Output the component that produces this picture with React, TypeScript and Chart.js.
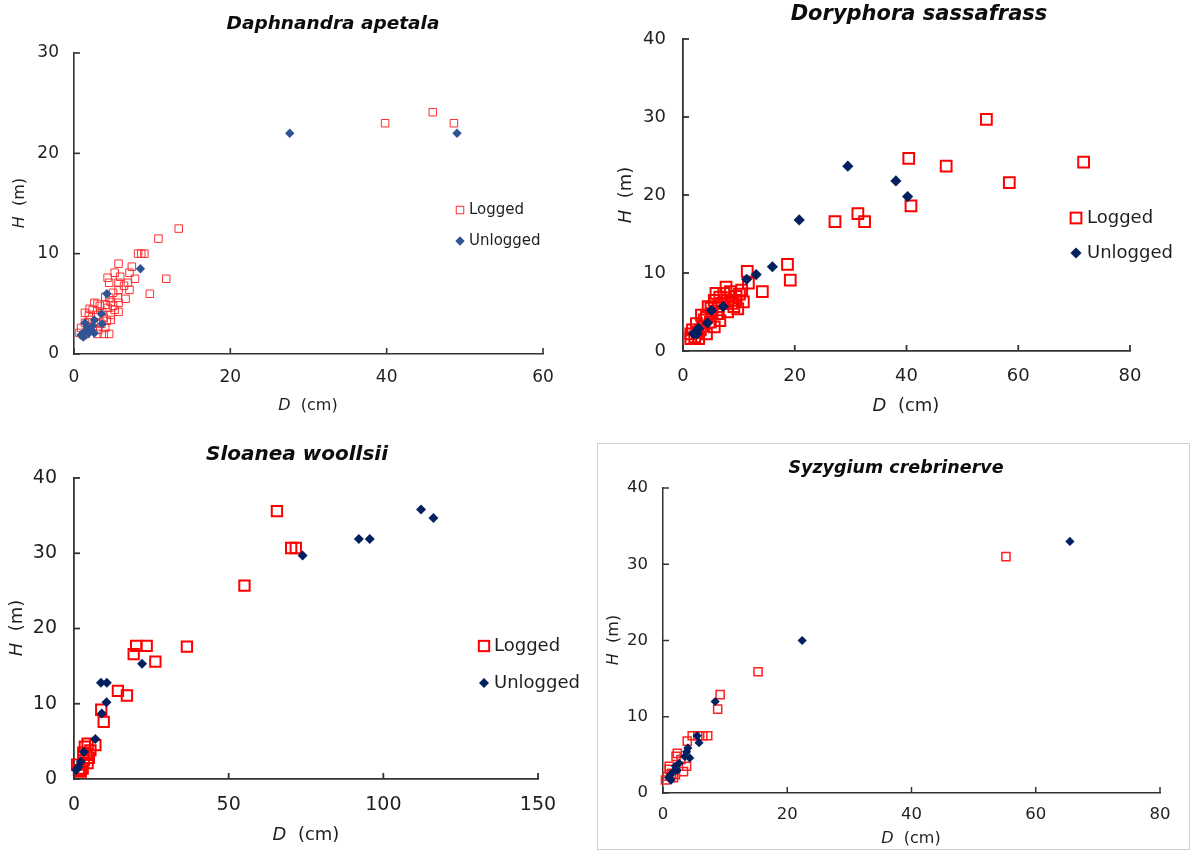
import React, { useEffect, useRef } from 'react';
import { Chart, registerables } from 'chart.js';

Chart.register(...registerables);

type Pt = [number, number];

// ---------- Data: [D (cm), H (m)] ----------
const daphnandraLogged: Pt[] = [
  [39.8, 23.0], [45.9, 24.1], [48.6, 23.0], [13.4, 12.5], [10.8, 11.5], [8.2, 10.0], [8.6, 10.0], [9.0, 10.0],
  [11.8, 7.5], [9.7, 6.0], [5.7, 9.0], [7.4, 8.7], [7.1, 8.1], [7.8, 7.5], [6.9, 7.1], [7.1, 6.4], [6.6, 5.5],
  [5.2, 8.1], [4.3, 7.6], [4.5, 7.1], [5.7, 7.1], [5.7, 6.4], [5.0, 6.1], [5.6, 5.6], [5.7, 5.1], [4.7, 5.2],
  [4.0, 4.9], [5.2, 4.4], [4.7, 3.9], [3.3, 4.8], [2.6, 5.1], [2.4, 4.4], [3.1, 3.9], [3.8, 3.6], [1.9, 3.9],
  [1.4, 4.1], [2.1, 3.4], [2.8, 3.1], [4.0, 2.6], [4.5, 2.0], [3.8, 2.0], [3.1, 2.4], [1.4, 3.1], [0.9, 2.6],
  [0.7, 2.1], [1.2, 1.9], [1.9, 2.3], [2.4, 2.6], [1.7, 2.8], [4.7, 3.4], [3.6, 4.2], [4.3, 4.6], [5.0, 4.8],
  [4.5, 5.6], [4.0, 5.7], [5.9, 7.7], [6.4, 6.8], [5.7, 4.2], [3.0, 5.0], [2.0, 4.5], [3.5, 3.0], [4.2, 3.3],
  [3.0, 2.0], [1.5, 2.0],
];
const daphnandraUnlogged: Pt[] = [
  [27.6, 22.0], [49.0, 22.0], [8.5, 8.5], [4.2, 6.0], [3.5, 4.0], [3.6, 3.0], [2.6, 3.4], [1.4, 3.1],
  [1.7, 2.6], [2.4, 2.8], [2.1, 2.3], [1.3, 2.2], [0.9, 1.9], [1.2, 1.7], [1.9, 2.1], [2.6, 2.1],
];

const doryphoraLogged: Pt[] = [
  [54.3, 29.7], [40.4, 24.7], [47.1, 23.7], [71.7, 24.2], [58.4, 21.6], [40.8, 18.6], [31.3, 17.6], [32.5, 16.6],
  [27.2, 16.6], [18.7, 11.1], [19.2, 9.1], [11.5, 10.2], [11.7, 8.7], [14.2, 7.6], [10.5, 7.8], [9.4, 6.5],
  [10.1, 7.3], [8.7, 6.1], [7.7, 8.2], [7.3, 7.4], [8.0, 6.5], [6.6, 6.9], [5.9, 7.4], [5.6, 6.5], [6.3, 5.7],
  [5.2, 4.8], [4.5, 5.7], [4.2, 4.4], [5.6, 3.1], [4.2, 2.2], [3.1, 2.7], [3.3, 4.6], [2.4, 3.5], [1.7, 2.7],
  [2.1, 1.8], [1.4, 1.6], [2.8, 1.6], [1.4, 2.2], [4.9, 3.7], [6.6, 3.9], [9.1, 5.7], [9.8, 5.4], [10.8, 6.3],
  [6.3, 4.8], [7.0, 6.1], [8.0, 5.0], [3.8, 4.0], [2.6, 2.4], [8.5, 7.6], [9.5, 7.0], [5.0, 5.5], [3.5, 3.2],
];
const doryphoraUnlogged: Pt[] = [
  [29.5, 23.7], [38.1, 21.8], [40.2, 19.8], [20.8, 16.8], [16.0, 10.8], [13.1, 9.8], [11.4, 9.2], [7.2, 5.7],
  [5.1, 5.2], [4.4, 3.6], [2.8, 2.9], [2.3, 2.4], [1.9, 2.2], [2.5, 2.2],
];

const sloaneaLogged: Pt[] = [
  [65.6, 35.6], [70.2, 30.7], [71.7, 30.7], [55.1, 25.7], [36.5, 17.6], [20.1, 17.7], [23.5, 17.7], [19.3, 16.6],
  [26.3, 15.6], [14.2, 11.7], [17.1, 11.1], [8.8, 9.2], [9.6, 7.6], [6.9, 4.5], [4.4, 4.7], [3.5, 4.3],
  [4.1, 3.2], [4.4, 2.1], [2.8, 1.4], [1.6, 1.2], [1.0, 1.9], [3.2, 2.5], [5.3, 3.8], [3.0, 3.5], [4.8, 2.8],
  [2.2, 1.0],
];
const sloaneaUnlogged: Pt[] = [
  [112.2, 35.8], [116.2, 34.7], [92.1, 31.9], [95.6, 31.9], [73.9, 29.7], [22.0, 15.3], [8.7, 12.8], [10.6, 12.8],
  [10.5, 10.2], [9.0, 8.7], [6.9, 5.3], [3.2, 3.6], [2.2, 2.3], [1.4, 1.6], [0.7, 1.2],
];

const syzygiumLogged: Pt[] = [
  [55.2, 31.0], [15.3, 15.9], [9.2, 12.9], [8.8, 11.0], [4.7, 7.5], [5.6, 7.5], [6.4, 7.5], [7.2, 7.5],
  [3.9, 6.8], [2.3, 5.2], [2.1, 4.8], [3.8, 3.5], [3.3, 2.8], [1.0, 3.1], [0.7, 2.2], [0.4, 1.7], [1.7, 2.0],
  [2.9, 4.4], [1.0, 3.5], [2.0, 2.4], [1.4, 2.6],
];
const syzygiumUnlogged: Pt[] = [
  [65.5, 33.0], [22.4, 20.0], [8.4, 12.0], [5.5, 7.5], [5.8, 6.6], [4.0, 5.9], [4.3, 4.6], [3.5, 4.8],
  [2.6, 3.9], [2.0, 3.5], [1.7, 2.8], [1.2, 2.4], [0.9, 2.0], [1.3, 1.7], [2.3, 3.0], [3.8, 5.4],
];

const seriesNames = ['Logged', 'Unlogged'];
const xAxisLabel = ['D', '  (cm)'];
const yAxisLabel = ['H', '  (m)'];

// ---------- Styling ----------
const FONT = '"DejaVu Sans", "Liberation Sans", Arial, sans-serif';
const AXIS = '#333333';
const TEXT = '#1f1f1f';
const RED = '#FF0000';

interface PanelCfg {
  key: string;
  title: string;
  logged: Pt[];
  unlogged: Pt[];
  left: number; top: number; width: number; height: number;
  area: { left: number; top: number; right: number; bottom: number };
  xMax: number; xStep: number; yMax: number; yStep: number;
  tickSize: number; xTickPad: number; yTickPad: number;
  titleX: number; titleY: number; titleSize: number;
  xTitleX: number; xTitleY: number; yTitleX: number; yTitleY: number; axisTitleSize: number;
  legend: { markerX: number; textX: number; y1: number; y2: number; size: number } | null;
  loggedR: number; loggedBW: number; loggedColor: string;
  unloggedR: number; unloggedColor: string;
  axisWidth: number;
}

const panels: PanelCfg[] = [
  {
    key: 'p1', title: 'Daphnandra apetala', logged: daphnandraLogged, unlogged: daphnandraUnlogged,
    left: 0, top: 0, width: 580, height: 415,
    area: { left: 74, top: 53, right: 543, bottom: 354 },
    xMax: 60, xStep: 20, yMax: 30, yStep: 10,
    tickSize: 17, xTickPad: 13, yTickPad: 15,
    titleX: 333, titleY: 24, titleSize: 18.5,
    xTitleX: 308, xTitleY: 406, yTitleX: 20, yTitleY: 203, axisTitleSize: 16,
    legend: { markerX: 460, textX: 469, y1: 210, y2: 241, size: 15 },
    loggedR: 5.3, loggedBW: 1, loggedColor: '#FF3030',
    unloggedR: 4.7, unloggedColor: '#2F5597',
    axisWidth: 1.6,
  },
  {
    key: 'p2', title: 'Doryphora sassafrass', logged: doryphoraLogged, unlogged: doryphoraUnlogged,
    left: 580, top: 0, width: 612, height: 415,
    area: { left: 103, top: 39, right: 550, bottom: 351 },
    xMax: 80, xStep: 20, yMax: 40, yStep: 10,
    tickSize: 18, xTickPad: 15, yTickPad: 17,
    titleX: 339, titleY: 15, titleSize: 21,
    xTitleX: 326, xTitleY: 406, yTitleX: 46, yTitleY: 195, axisTitleSize: 18,
    legend: { markerX: 496, textX: 507, y1: 218, y2: 253, size: 18 },
    loggedR: 7.6, loggedBW: 2, loggedColor: RED,
    unloggedR: 5.6, unloggedColor: '#002060',
    axisWidth: 1.8,
  },
  {
    key: 'p3', title: 'Sloanea woollsii', logged: sloaneaLogged, unlogged: sloaneaUnlogged,
    left: 0, top: 420, width: 595, height: 432,
    area: { left: 74, top: 58, right: 538, bottom: 359 },
    xMax: 150, xStep: 50, yMax: 40, yStep: 10,
    tickSize: 19, xTickPad: 15, yTickPad: 17,
    titleX: 297, titleY: 35, titleSize: 20,
    xTitleX: 306, xTitleY: 415, yTitleX: 17, yTitleY: 208, axisTitleSize: 18,
    legend: { markerX: 484, textX: 494, y1: 226, y2: 263, size: 18 },
    loggedR: 7.3, loggedBW: 2, loggedColor: RED,
    unloggedR: 5, unloggedColor: '#002060',
    axisWidth: 1.8,
  },
  {
    key: 'p4', title: 'Syzygium crebrinerve', logged: syzygiumLogged, unlogged: syzygiumUnlogged,
    left: 597, top: 443, width: 593, height: 407,
    area: { left: 66, top: 45, right: 563, bottom: 350 },
    xMax: 80, xStep: 20, yMax: 40, yStep: 10,
    tickSize: 16.5, xTickPad: 12, yTickPad: 15,
    titleX: 299, titleY: 25, titleSize: 17.5,
    xTitleX: 314, xTitleY: 396, yTitleX: 17, yTitleY: 197, axisTitleSize: 16,
    legend: null,
    loggedR: 5.7, loggedBW: 1.5, loggedColor: '#FF2020',
    unloggedR: 4.6, unloggedColor: '#002060',
    axisWidth: 1.5,
  },
];

function drawMixed(ctx: CanvasRenderingContext2D, parts: string[], cx: number, cy: number, size: number, rotate: boolean) {
  ctx.save();
  ctx.translate(cx, cy);
  if (rotate) ctx.rotate(-Math.PI / 2);
  const fonts = [`italic ${size}px ${FONT}`, `${size}px ${FONT}`];
  let total = 0;
  const widths = parts.map((p, i) => { ctx.font = fonts[i]; const w = ctx.measureText(p).width; total += w; return w; });
  let x = -total / 2;
  ctx.fillStyle = TEXT;
  ctx.textBaseline = 'middle';
  ctx.textAlign = 'left';
  parts.forEach((p, i) => { ctx.font = fonts[i]; ctx.fillText(p, x, 0); x += widths[i]; });
  ctx.restore();
}

function drawSquare(ctx: CanvasRenderingContext2D, x: number, y: number, r: number, color: string, bw: number) {
  const h = Math.SQRT1_2 * r;
  ctx.save();
  ctx.strokeStyle = color; ctx.lineWidth = bw;
  ctx.strokeRect(x - h, y - h, 2 * h, 2 * h);
  ctx.restore();
}

function drawDiamond(ctx: CanvasRenderingContext2D, x: number, y: number, r: number, color: string) {
  ctx.save();
  ctx.fillStyle = color;
  ctx.beginPath();
  ctx.moveTo(x - r, y); ctx.lineTo(x, y - r); ctx.lineTo(x + r, y); ctx.lineTo(x, y + r);
  ctx.closePath(); ctx.fill();
  ctx.restore();
}

function buildChart(canvas: HTMLCanvasElement, cfg: PanelCfg) {
  const decor = {
    id: 'decor_' + cfg.key,
    afterDraw(chart: any) {
      const ctx: CanvasRenderingContext2D = chart.ctx;
      const { left, bottom } = chart.chartArea;
      const xs = chart.scales.x; const ys = chart.scales.y;
      // inward tick marks
      ctx.save();
      ctx.strokeStyle = AXIS; ctx.lineWidth = cfg.axisWidth;
      const tl = 6;
      xs.ticks.forEach((t: any) => {
        const p = xs.getPixelForValue(t.value);
        ctx.beginPath(); ctx.moveTo(p, bottom); ctx.lineTo(p, bottom - tl); ctx.stroke();
      });
      ys.ticks.forEach((t: any) => {
        const p = ys.getPixelForValue(t.value);
        ctx.beginPath(); ctx.moveTo(left, p); ctx.lineTo(left + tl, p); ctx.stroke();
      });
      ctx.restore();
      // title
      ctx.save();
      ctx.font = `italic bold ${cfg.titleSize}px ${FONT}`;
      ctx.fillStyle = '#0d0d0d';
      ctx.textAlign = 'center'; ctx.textBaseline = 'middle';
      ctx.fillText(cfg.title, cfg.titleX, cfg.titleY);
      ctx.restore();
      // axis titles
      drawMixed(ctx, xAxisLabel, cfg.xTitleX, cfg.xTitleY, cfg.axisTitleSize, false);
      drawMixed(ctx, yAxisLabel, cfg.yTitleX, cfg.yTitleY, cfg.axisTitleSize, true);
      // legend
      if (cfg.legend) {
        const L = cfg.legend;
        drawSquare(ctx, L.markerX, L.y1, cfg.loggedR, cfg.loggedColor, cfg.loggedBW);
        drawDiamond(ctx, L.markerX, L.y2, cfg.unloggedR, cfg.unloggedColor);
        ctx.save();
        ctx.font = `${L.size}px ${FONT}`;
        ctx.fillStyle = TEXT; ctx.textAlign = 'left'; ctx.textBaseline = 'middle';
        ctx.fillText(seriesNames[0], L.textX, L.y1);
        ctx.fillText(seriesNames[1], L.textX, L.y2);
        ctx.restore();
      }
    },
  };

  const yWidth = cfg.area.left;
  const xHeight = cfg.height - cfg.area.bottom;

  return new Chart(canvas, {
    type: 'scatter',
    data: {
      datasets: [
        {
          label: seriesNames[0],
          data: cfg.logged.map(([x, y]) => ({ x, y })),
          pointStyle: 'rect',
          pointRadius: cfg.loggedR,
          pointBorderWidth: cfg.loggedBW,
          pointBorderColor: cfg.loggedColor,
          pointBackgroundColor: 'rgba(0,0,0,0)',
          borderColor: cfg.loggedColor,
          backgroundColor: 'rgba(0,0,0,0)',
          order: 2,
          clip: false as any,
        },
        {
          label: seriesNames[1],
          data: cfg.unlogged.map(([x, y]) => ({ x, y })),
          pointStyle: 'rectRot',
          pointRadius: cfg.unloggedR,
          pointBorderWidth: 0,
          pointBorderColor: cfg.unloggedColor,
          pointBackgroundColor: cfg.unloggedColor,
          borderColor: cfg.unloggedColor,
          backgroundColor: cfg.unloggedColor,
          order: 1,
          clip: false as any,
        },
      ],
    },
    options: {
      responsive: false,
      animation: false,
      devicePixelRatio: 1,
      events: [],
      layout: {
        padding: { left: 0, top: cfg.area.top, right: cfg.width - cfg.area.right, bottom: 0 },
      },
      plugins: {
        legend: { display: false },
        title: { display: false },
        tooltip: { enabled: false },
      },
      scales: {
        x: {
          type: 'linear',
          position: 'bottom',
          min: 0, max: cfg.xMax,
          grid: { display: false, drawTicks: false },
          border: { display: true, color: AXIS, width: cfg.axisWidth },
          ticks: { stepSize: cfg.xStep, color: TEXT, padding: cfg.xTickPad, font: { family: FONT, size: cfg.tickSize } },
          afterFit: (s: any) => { s.height = xHeight; },
        },
        y: {
          type: 'linear',
          position: 'left',
          min: 0, max: cfg.yMax,
          grid: { display: false, drawTicks: false },
          border: { display: true, color: AXIS, width: cfg.axisWidth },
          ticks: { stepSize: cfg.yStep, color: TEXT, padding: cfg.yTickPad, font: { family: FONT, size: cfg.tickSize } },
          afterFit: (s: any) => { s.width = yWidth; },
        },
      },
    },
    plugins: [decor],
  } as any);
}

function Panel({ cfg }: { cfg: PanelCfg }) {
  const ref = useRef<HTMLCanvasElement>(null);
  useEffect(() => {
    if (!ref.current) return;
    const chart = buildChart(ref.current, cfg);
    return () => chart.destroy();
  }, [cfg]);
  return (
    <div style={{ position: 'absolute', left: cfg.left, top: cfg.top, width: cfg.width, height: cfg.height }}>
      <canvas ref={ref} width={cfg.width} height={cfg.height} style={{ display: 'block', width: cfg.width, height: cfg.height }} />
    </div>
  );
}

export default function App() {
  return (
    <div style={{ position: 'absolute', left: 0, top: 0, width: 1192, height: 852, background: '#fff', overflow: 'hidden' }}>
      <div style={{ position: 'absolute', left: 597, top: 443, width: 593, height: 407, border: '1px solid #cfcfcf', boxSizing: 'border-box' }} />
      {panels.map((p) => <Panel key={p.key} cfg={p} />)}
    </div>
  );
}
